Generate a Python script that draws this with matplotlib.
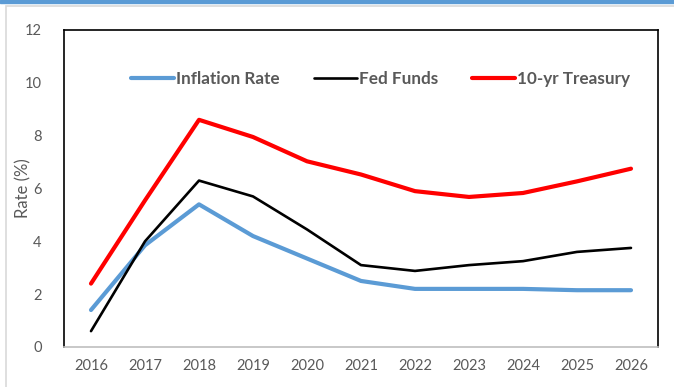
import matplotlib.pyplot as plt
from matplotlib.patches import Rectangle
import numpy as np

years = ["2016", "2017", "2018", "2019", "2020", "2021", "2022", "2023", "2024", "2025", "2026"]
inflation = [1.4, 3.85, 5.4, 4.2, 3.35, 2.5, 2.2, 2.2, 2.2, 2.15, 2.15]
fed_funds = [0.6, 4.0, 6.3, 5.7, 4.45, 3.1, 2.88, 3.1, 3.25, 3.6, 3.75]
treasury = [2.4, 5.55, 8.6, 7.95, 7.03, 6.53, 5.9, 5.68, 5.83, 6.27, 6.75]

plt.rcParams['font.family'] = ['Lato', 'DejaVu Sans']
grey = '#595959'

fig = plt.figure(figsize=(6.74, 3.87), dpi=100)
ax = fig.add_axes([64/674, 1 - 347/387, 594/674, 317/387])

# top band and chart-area border
fig.patches.append(Rectangle((0, 1 - 3/387), 1, 3/387, transform=fig.transFigure,
                             color='#5B9BD5', zorder=0))
fig.patches.append(Rectangle((6/674, -0.05), 1.1, 1 - 6/387 + 0.05, transform=fig.transFigure,
                             fill=False, edgecolor='#D9D9D9', linewidth=1.2, zorder=0))

x = np.arange(len(years))
ax.plot(x, inflation, color='#5B9BD5', lw=3.0, solid_capstyle='round', label='Inflation Rate')
ax.plot(x, fed_funds, color='black', lw=1.9, solid_capstyle='round', label='Fed Funds')
ax.plot(x, treasury, color='#FF0000', lw=3.0, solid_capstyle='round', label='10-yr Treasury')

ax.set_xlim(-0.5, len(years) - 0.5)
ax.set_ylim(0, 12)
ax.set_xticks(x)
ax.set_xticklabels(years)
ax.set_yticks(range(0, 13, 2))
ax.tick_params(length=0, labelsize=10.5, colors=grey, pad=9)
ax.tick_params(axis='y', pad=16)
ax.set_ylabel('Rate (%)', color=grey, fontsize=12)
ax.yaxis.set_label_coords(-0.054, 0.5)

for s in ['left', 'top', 'right']:
    ax.spines[s].set_color('black')
    ax.spines[s].set_linewidth(1.2)
ax.spines['bottom'].set_color('#BFBFBF')
ax.spines['bottom'].set_linewidth(1.2)

leg = ax.legend(loc='center', bbox_to_anchor=(0.533, 0.845), ncol=3, frameon=False,
                handlelength=2.5, handletextpad=0.12, columnspacing=2.0,
                prop={'weight': 'bold', 'size': 12.3})
for t in leg.get_texts():
    t.set_color(grey)

fig.savefig('out.png', dpi=100)
